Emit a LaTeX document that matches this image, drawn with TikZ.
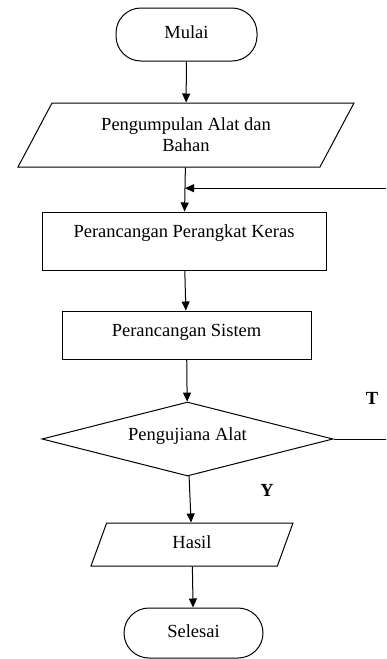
\documentclass[tikz,border=0pt]{standalone}
\usepackage{fontspec}
\setmainfont{Liberation Serif}
\usepackage{tikz}
\usetikzlibrary{shapes.geometric,arrows.meta,calc}

\begin{document}
\begin{tikzpicture}[x=1pt, y=-1pt, line width=1pt,
    font=\fontsize{18.5}{21}\selectfont,
    terminal/.style={draw, rectangle, rounded corners=25pt, inner sep=0pt, text height=13pt, text depth=5pt},
    io/.style={draw, trapezium, trapezium stretches body=true, inner sep=0pt, align=center},
    proses/.style={draw, rectangle, inner sep=0pt, text height=13pt},
    keputusan/.style={draw, diamond, aspect=3.9, minimum width=291pt, minimum height=74pt, inner sep=0pt, text height=13pt, text depth=10pt},
    panah/.style={-{Triangle[length=9pt,width=8pt]}},
    cabang/.style={font=\fontsize{18.5}{21}\selectfont\bfseries}]

% bingkai gambar (loop kanan keluar dari bingkai)
\useasboundingbox (0,0) rectangle (386,659);
\clip (0,0) rectangle (386,659);

% simpul alur
\node[terminal, minimum width=141pt, minimum height=53pt] (mulai) at (186.5,34.5) {Mulai};
\node[io, trapezium left angle=45, trapezium right angle=135,
      minimum width=336pt, minimum height=64pt] (kumpul) at (186,135)
      {Pengumpulan Alat dan\\Bahan};
\node[proses, minimum width=284pt, minimum height=58pt, text depth=20pt] (keras) at (184,241)
      {Perancangan Perangkat Keras};
\node[proses, minimum width=249pt, minimum height=48pt, text depth=10pt] (sistem) at (186.5,335)
      {Perancangan Sistem};
\node[keputusan] (uji) at (187.5,439) {Pengujiana Alat};
\node[io, trapezium left angle=49, trapezium right angle=131,
      minimum width=202pt, minimum height=43pt, text height=13pt, text depth=5pt] (hasil) at (192,544.5)
      {Hasil};
\node[terminal, minimum width=139pt, minimum height=50pt] (selesai) at (193.5,633) {Selesai};

% label cabang
\node[cabang] (labelT) at (372,398) {T};
\node[cabang] (labelY) at (267,490) {Y};

% panah
\draw[panah] (mulai) -- (kumpul);
\draw[panah] (kumpul) -- (keras);
\draw[panah] (keras) -- (sistem);
\draw[panah] (sistem) -- (uji);
\draw[panah] (uji) -- (hasil);
\draw[panah] (hasil) -- (selesai);

% loop T kembali ke perancangan
\coordinate (gabung) at ($(kumpul.south)!0.47!(keras.north)$);
\coordinate (balik) at ($(uji.east)+(70,0)$);
\draw[panah] (uji.east) -- (balik) |- (gabung);

\end{tikzpicture}
\end{document}
